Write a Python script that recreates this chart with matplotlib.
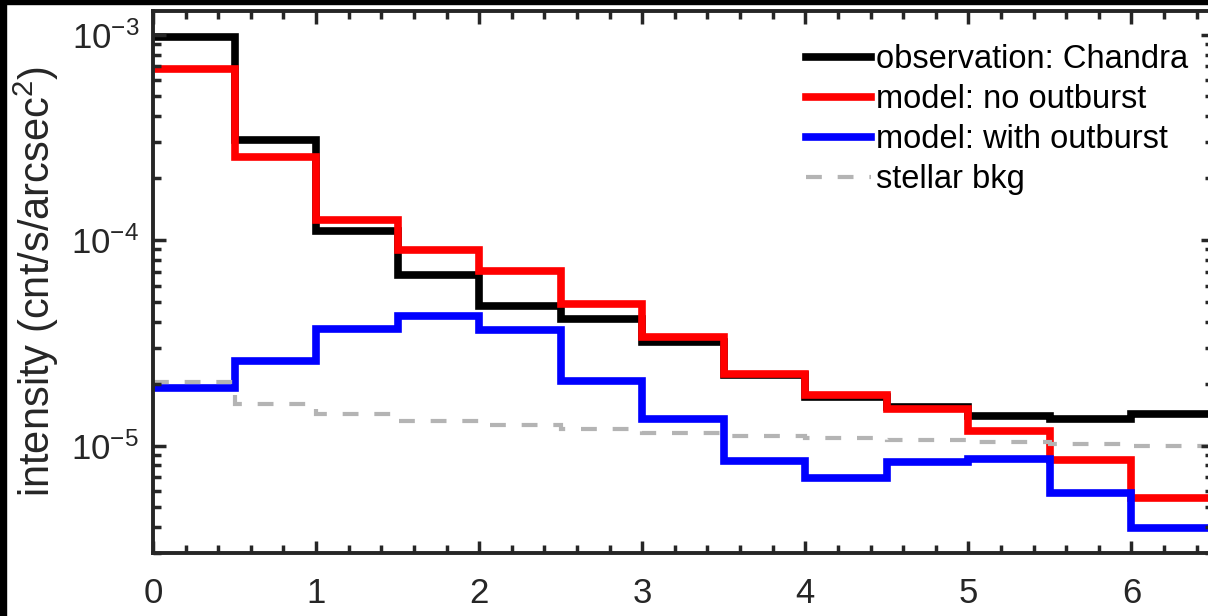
import numpy as np
import matplotlib
matplotlib.use("Agg")
import matplotlib.pyplot as plt
from matplotlib.patches import Rectangle
from matplotlib.ticker import LogLocator, MultipleLocator, FixedLocator, FixedFormatter, NullFormatter

plt.rcParams['font.family'] = ['Liberation Sans', 'DejaVu Sans']
plt.rcParams['mathtext.fontset'] = 'custom'
plt.rcParams['mathtext.rm'] = 'Liberation Sans'
plt.rcParams['mathtext.it'] = 'Liberation Sans:italic'
plt.rcParams['mathtext.bf'] = 'Liberation Sans:bold'

# ---- data ----
r_edges = [0, 0.5, 1.0, 1.5, 2.0, 2.5, 3.0, 3.5, 4.0, 4.5, 5.0, 5.5, 6.0, 6.5]
obs_chandra = [9.75e-4, 3.07e-4, 1.107e-4, 6.73e-5, 4.80e-5, 4.15e-5, 3.20e-5,
               2.21e-5, 1.715e-5, 1.54e-5, 1.40e-5, 1.34e-5, 1.42e-5]
model_no_outburst = [6.80e-4, 2.53e-4, 1.249e-4, 8.98e-5, 7.06e-5, 4.90e-5, 3.38e-5,
                     2.24e-5, 1.76e-5, 1.51e-5, 1.18e-5, 8.52e-6, 5.56e-6]
model_with_outburst = [1.91e-5, 2.59e-5, 3.69e-5, 4.26e-5, 3.66e-5, 2.07e-5, 1.34e-5,
                       8.4e-6, 6.97e-6, 8.3e-6, 8.62e-6, 5.86e-6, 3.95e-6]
stellar_bkg = [2.04e-5, 1.595e-5, 1.43e-5, 1.318e-5, 1.26e-5, 1.204e-5, 1.155e-5,
               1.113e-5, 1.088e-5, 1.067e-5, 1.036e-5, 1.02e-5, 0.991e-5]
labels = ['observation: Chandra', 'model: no outburst', 'model: with outburst', 'stellar bkg']
x_ticks = [0, 1, 2, 3, 4, 5, 6]
y_ticks = [1e-5, 1e-4, 1e-3]
y_ticklabels = [r'$10^{-5}$', r'$10^{-4}$', r'$10^{-3}$']

W, H = 1208, 616
fig = plt.figure(figsize=(W / 100, H / 100), dpi=100, facecolor='white')
ax = fig.add_axes([153 / W, (H - 553) / H, (1213 - 153) / W, (553 - 10.5) / H])

axc = '#262626'
lw = 5.5
ax.stairs(obs_chandra, r_edges, baseline=None, color='black', lw=lw, label=labels[0])
ax.stairs(model_no_outburst, r_edges, baseline=None, color='#ff0000', lw=lw, label=labels[1])
ax.stairs(model_with_outburst, r_edges, baseline=None, color='#0000ff', lw=lw, label=labels[2])
ax.stairs(stellar_bkg, r_edges, baseline=None, color='#b4b4b4', lw=3,
          linestyle=(0, (3.8, 3.8)), label=labels[3])

ax.set_yscale('log')
ax.set_xlim(0, 6.5)
ax.set_ylim(3e-6, 1.31e-3)

ax.xaxis.set_major_locator(FixedLocator(x_ticks))
ax.xaxis.set_minor_locator(MultipleLocator(0.2))
ax.yaxis.set_major_locator(FixedLocator(y_ticks))
ax.yaxis.set_major_formatter(FixedFormatter(y_ticklabels))
ax.yaxis.set_minor_locator(LogLocator(base=10, subs=np.arange(2, 10), numticks=20))
ax.yaxis.set_minor_formatter(NullFormatter())

for sp in ax.spines.values():
    sp.set_linewidth(2.8)
    sp.set_color(axc)

ax.tick_params(which='both', direction='in', top=True, right=True, color=axc, width=2.5)
ax.tick_params(which='major', length=9)
ax.tick_params(which='minor', length=5.5)
ax.tick_params(axis='x', which='major', labelsize=25, pad=17, labelcolor=axc)
ax.tick_params(axis='y', which='major', labelsize=25, pad=10, labelcolor=axc)

ax.set_ylabel(r'intensity (cnt/s/arcsec$^2$)', fontsize=30, color=axc)
ax.yaxis.set_label_coords(-0.087, 0.5)

leg = ax.legend(loc='upper left', bbox_to_anchor=(806 / W, 1 - 44 / H),
                bbox_transform=fig.transFigure, frameon=False, fontsize=23.5,
                handlelength=2.0, handletextpad=0.15, labelspacing=0.28,
                borderpad=0, borderaxespad=0)

# black border strips present in the reference image
fig.patches.append(Rectangle((0, 0), 6 / W, 1, transform=fig.transFigure,
                             color='black', zorder=10))
fig.patches.append(Rectangle((0, 1 - 4 / H), 1, 4 / H, transform=fig.transFigure,
                             color='black', zorder=10))

fig.savefig('out.png', dpi=100, facecolor='white')
